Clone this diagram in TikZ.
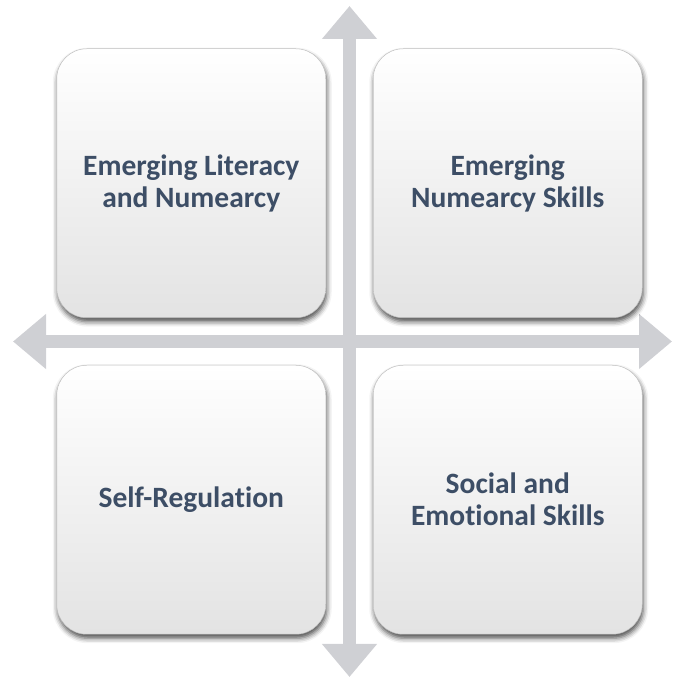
\documentclass[tikz,border=0pt]{standalone}
\usepackage{fontspec}
\setmainfont{Carlito}[Ligatures=NoCommon]
\usepackage{tikz}
\usetikzlibrary{arrows.meta,positioning,shadows.blur}

\definecolor{axisgray}{HTML}{CFD0D4}
\definecolor{labelblue}{HTML}{3D4E66}

\begin{document}
\begin{tikzpicture}[
  x=1pt, y=1pt,
  quad/.style={draw=black!25, line width=0.5pt, rounded corners=30pt,
               minimum width=269pt, minimum height=269pt, align=center,
               top color=white, middle color=white, bottom color=black!11,
               text=labelblue, font=\fontsize{29.5}{32}\selectfont\bfseries,
               blur shadow={shadow xshift=1pt, shadow yshift=-4pt,
                            shadow blur radius=5pt, shadow opacity=70}},
  axis/.style={axisgray, line width=13pt,
               {Triangle[length=33pt, width=53pt]}-{Triangle[length=33pt, width=53pt]}}
]
\useasboundingbox (0,0) rectangle (672,677);
\coordinate (o) at (349.5,335.5);
% axis ends
\coordinate (north) at (349.5,671);
\coordinate (south) at (349.5,0);
\coordinate (west) at (13,335.5);
\coordinate (east) at (672,335.5);
\draw[axis] (south) -- (north);
\draw[axis] (west) -- (east);
% the four quadrants
\node[quad, above left=23.5pt and 23.5pt of o]  (lit) {Emerging Literacy\\ and Numearcy};
\node[quad, above right=23.5pt and 23.5pt of o] (num) {Emerging\\ Numearcy Skills};
\node[quad, below left=23.5pt and 23.5pt of o]  (self) {Self-Regulation};
\node[quad, below right=23.5pt and 23.5pt of o] (soc) {Social and\\ Emotional Skills};
\end{tikzpicture}
\end{document}
